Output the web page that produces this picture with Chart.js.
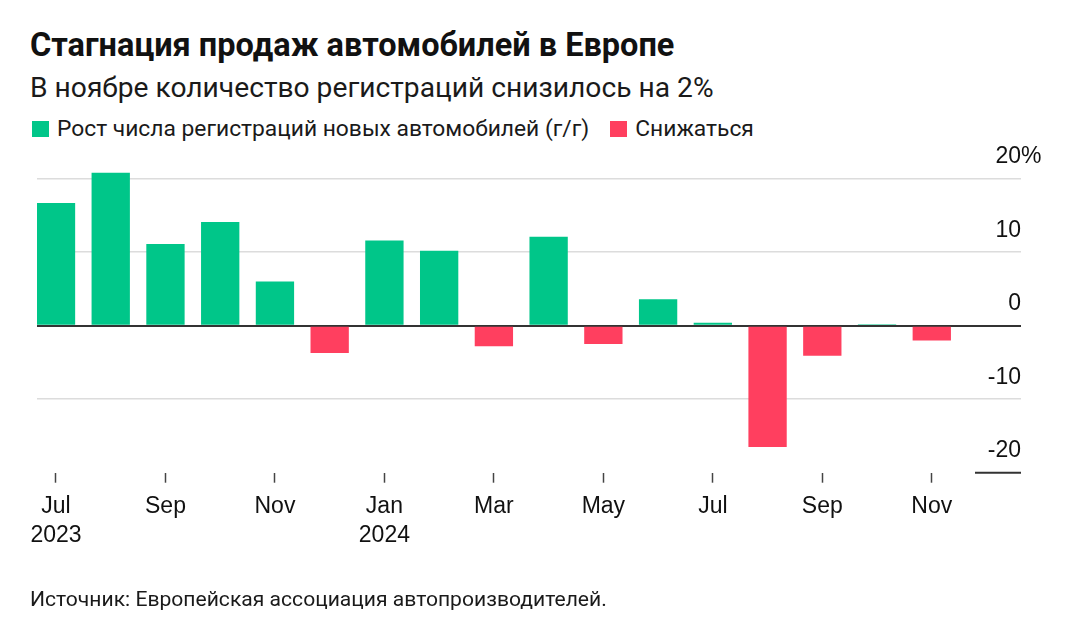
<!DOCTYPE html>
<html lang="ru">
<head>
<meta charset="utf-8">
<title>Стагнация продаж автомобилей в Европе</title>
<script src="https://cdn.jsdelivr.net/npm/chart.js@4.4.1/dist/chart.umd.min.js"></script>
<style>
  html, body { margin: 0; padding: 0; background: #fff; }
  body { width: 1080px; height: 640px; position: relative; overflow: hidden; font-family: Roboto, "Liberation Sans", sans-serif; color: #111; }
  #salesChart { position: absolute; left: 0; top: 0; }
  .title { position: absolute; left: 30px; top: 25px; font-size: 32.5px; font-weight: 700; line-height: 40px; white-space: nowrap; }
  .subtitle { position: absolute; left: 30px; top: 71px; font-size: 28.2px; line-height: 34px; color: #1a1a1a; white-space: nowrap; }
  .legend { position: absolute; left: 32px; top: 114px; font-size: 22.8px; line-height: 30px; display: flex; white-space: nowrap; color: #1a1a1a; }
  .legend-item { display: flex; align-items: center; margin-right: 21px; }
  .swatch { width: 17px; height: 16px; margin-right: 8px; }
  .source { position: absolute; left: 30px; top: 585px; font-size: 21.1px; line-height: 28px; color: #1a1a1a; white-space: nowrap; }
</style>
</head>
<body>
<div class="title">Стагнация продаж автомобилей в Европе</div>
<div class="subtitle">В ноябре количество регистраций снизилось на 2%</div>
<div class="legend" id="legend"></div>
<canvas id="salesChart" width="1080" height="640"></canvas>
<div class="source">Источник: Европейская ассоциация автопроизводителей.</div>

<script>
// DATA
const MONTHS = ['Jul', 'Aug', 'Sep', 'Oct', 'Nov', 'Dec', 'Jan', 'Feb', 'Mar', 'Apr', 'May', 'Jun', 'Jul', 'Aug', 'Sep', 'Oct', 'Nov'];
const YEARS  = ['2023', '', '', '', '', '', '2024', '', '', '', '', '', '', '', '', '', ''];
const GROWTH = [16.7, 20.8, 11.1, 14.1, 6.0, -3.7, 11.6, 10.2, -2.8, 12.1, -2.5, 3.6, 0.4, -16.5, -4.1, 0.2, -2.0];
const Y_TICKS = [-20, -10, 0, 10, 20];
const SERIES_NAMES = ['Рост числа регистраций новых автомобилей (г/г)', 'Снижаться'];
const SERIES_COLORS = ['#00c689', '#ff3f5f'];

const TICK_FONT = { family: '"Liberation Sans", Arial, sans-serif', size: 23 };

// HTML LEGEND
const legendEl = document.getElementById('legend');
SERIES_NAMES.forEach((name, i) => {
    const item = document.createElement('div');
    item.className = 'legend-item';
    item.innerHTML = `<span class="swatch" style="background:${SERIES_COLORS[i]}"></span><span>${name}</span>`;
    legendEl.appendChild(item);
});

// short dark line under the -20 label and the "%" after 20
const axisExtras = {
    id: 'axisExtras',
    afterDraw(chart) {
        const { ctx, chartArea, scales } = chart;
        const y = scales.y.getPixelForValue(-20);
        ctx.save();
        ctx.strokeStyle = '#333';
        ctx.lineWidth = 2;
        ctx.beginPath();
        ctx.moveTo(chartArea.right - 46, y);
        ctx.lineTo(chartArea.right, y);
        ctx.stroke();

        ctx.font = `${TICK_FONT.size}px ${TICK_FONT.family}`;
        ctx.fillStyle = '#111';
        ctx.textAlign = 'left';
        ctx.textBaseline = 'middle';
        ctx.fillText('%', chartArea.right, scales.y.getPixelForValue(20) - 22);
        ctx.restore();
    }
};

const ctx = document.getElementById('salesChart').getContext('2d');
new Chart(ctx, {
    type: 'bar',
    data: {
        datasets: [{
            data: GROWTH.map((v, i) => ({ x: i, y: v })),
            backgroundColor: GROWTH.map(v => v >= 0 ? SERIES_COLORS[0] : SERIES_COLORS[1]),
            borderWidth: 0,
            barPercentage: 0.7,
            categoryPercentage: 1
        }]
    },
    options: {
        responsive: false,
        animation: false,
        layout: { padding: { left: 37, right: 59, top: 164, bottom: 0 } },
        plugins: {
            legend: { display: false },
            tooltip: { enabled: false }
        },
        scales: {
            x: {
                type: 'linear',
                min: -0.347,
                max: 17.63,
                offset: false,
                border: { display: false },
                grid: { offset: false, drawOnChartArea: false, drawTicks: true, tickLength: 10, tickColor: '#444', tickWidth: 1.5 },
                afterBuildTicks: s => {
                    s.ticks = MONTHS.map((m, i) => ({ value: i })).filter(t => t.value % 2 === 0);
                },
                afterFit: s => { s.height = 640 - 472.7; },
                ticks: {
                    padding: 10,
                    color: '#111',
                    font: { ...TICK_FONT, lineHeight: 1.25 },
                    maxRotation: 0,
                    autoSkip: false,
                    callback: v => YEARS[v] ? [MONTHS[v], YEARS[v]] : MONTHS[v]
                }
            },
            y: {
                position: 'right',
                min: -20,
                max: 22,
                afterBuildTicks: s => { s.ticks = Y_TICKS.map(v => ({ value: v })); },
                border: { display: false },
                grid: {
                    drawTicks: false,
                    color: c => c.tick.value === 0 ? '#333' : (c.tick.value === -20 ? 'rgba(0,0,0,0)' : '#dcdcdc'),
                    lineWidth: c => c.tick.value === 0 ? 2 : 1.5
                },
                ticks: {
                    mirror: true,
                    padding: 0,
                    labelOffset: -22,
                    color: '#111',
                    font: TICK_FONT,
                    callback: v => String(v)
                }
            }
        }
    },
    plugins: [axisExtras]
});
</script>
</body>
</html>
